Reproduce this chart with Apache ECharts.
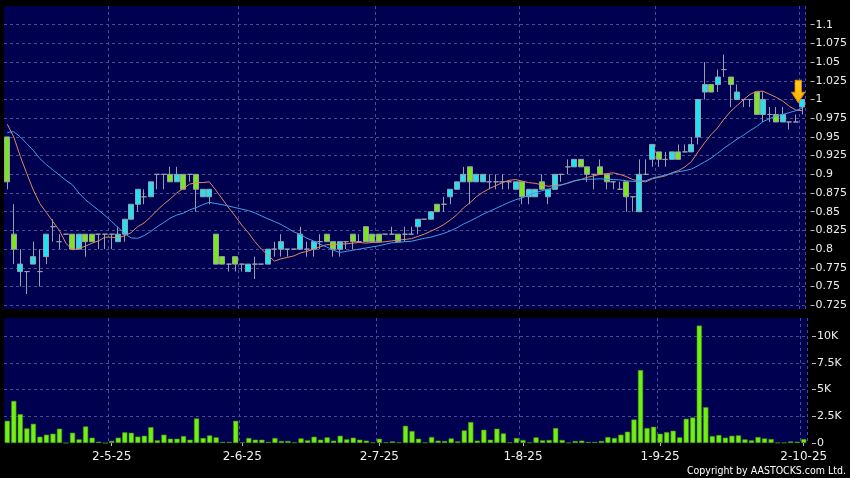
<!DOCTYPE html>
<html><head><meta charset="utf-8">
<script src="https://cdn.jsdelivr.net/npm/echarts@6/dist/echarts.min.js"></script>
<style>html,body{margin:0;padding:0;background:#000;}#c{width:850px;height:478px;}</style>
</head><body><div id="c"></div>
<script>
// trading days (HK), Apr 7 - Oct 2, 2025
const aprDays = [7,8,9,10,11,14,15,16,17,22,23,24,25,28,29,30];
const mayDays = [2,6,7,8,9,12,13,14,15,16,19,20,21,22,23,26,27,28,29,30];
const junDays = [2,3,4,5,6,9,10,11,12,13,16,17,18,19,20,23,24,25,26,27,30];
const julDays = [2,3,4,7,8,9,10,11,14,15,16,17,18,21,22,23,24,25,28,29,30,31];
const augDays = [1,4,5,6,7,8,11,12,13,14,15,18,19,20,21,22,25,26,27,28,29];
const sepDays = [1,2,3,4,5,8,9,10,11,12,15,16,17,18,19,22,23,24,25,26,29,30];
const octDays = [2];
const tickLabels = ['2-5-25','2-6-25','2-7-25','1-8-25','1-9-25','2-10-25'];

const opens = [0.95,0.82,0.77,0.77,0.78,0.77,0.79,0.83,0.81,0.82,
0.82,0.80,0.82,0.82,0.82,0.82,0.82,0.81,0.82,0.84,
0.86,0.87,0.87,0.90,0.90,0.90,0.89,0.90,0.90,0.90,
0.87,0.87,0.82,0.79,0.78,0.79,0.78,0.77,0.78,0.78,
0.78,0.80,0.80,0.80,0.80,0.80,0.80,0.80,0.81,0.82,
0.81,0.80,0.81,0.82,0.81,0.83,0.82,0.82,0.82,0.82,
0.82,0.82,0.82,0.83,0.84,0.84,0.86,0.86,0.87,0.88,
0.89,0.91,0.89,0.89,0.89,0.89,0.89,0.89,0.88,0.89,
0.87,0.87,0.89,0.87,0.88,0.90,0.91,0.91,0.92,0.91,
0.90,0.91,0.90,0.89,0.88,0.89,0.87,0.85,0.90,0.92,
0.93,0.92,0.92,0.93,0.93,0.93,0.95,1.01,1.02,1.02,
1.04,1.03,1.00,1.00,1.00,1.01,0.98,0.98,0.98,0.97,
0.97,0.97,0.99];
const closes = [0.89,0.80,0.78,0.77,0.79,0.77,0.82,0.83,0.81,0.82,
0.80,0.82,0.81,0.81,0.82,0.82,0.82,0.82,0.84,0.86,
0.88,0.87,0.89,0.90,0.90,0.89,0.90,0.88,0.90,0.88,
0.88,0.88,0.78,0.78,0.78,0.78,0.78,0.78,0.78,0.78,
0.80,0.80,0.81,0.80,0.80,0.82,0.80,0.81,0.81,0.81,
0.80,0.81,0.81,0.81,0.81,0.81,0.81,0.81,0.82,0.82,
0.81,0.82,0.82,0.84,0.84,0.85,0.85,0.86,0.88,0.89,
0.90,0.89,0.90,0.90,0.89,0.89,0.89,0.89,0.89,0.87,
0.88,0.88,0.88,0.88,0.90,0.90,0.91,0.92,0.91,0.90,
0.90,0.90,0.89,0.89,0.88,0.87,0.87,0.90,0.90,0.94,
0.92,0.92,0.93,0.92,0.93,0.94,1.00,1.02,1.01,1.03,
1.04,1.02,1.01,1.00,1.00,0.98,1.00,0.98,0.97,0.98,
0.97,0.97,1.00];
const lows = [0.88,0.78,0.75,0.74,0.78,0.75,0.78,0.81,0.80,0.82,
0.80,0.80,0.79,0.81,0.80,0.80,0.80,0.81,0.81,0.84,
0.85,0.86,0.87,0.88,0.88,0.89,0.89,0.88,0.89,0.85,
0.87,0.86,0.78,0.78,0.77,0.77,0.77,0.77,0.76,0.78,
0.78,0.79,0.79,0.79,0.80,0.80,0.79,0.79,0.80,0.81,
0.79,0.79,0.80,0.80,0.81,0.81,0.81,0.81,0.82,0.82,
0.81,0.81,0.82,0.82,0.84,0.84,0.85,0.85,0.86,0.88,
0.89,0.86,0.89,0.89,0.88,0.88,0.88,0.88,0.88,0.86,
0.86,0.87,0.88,0.86,0.88,0.89,0.90,0.91,0.91,0.89,
0.88,0.90,0.88,0.88,0.88,0.85,0.85,0.85,0.90,0.91,
0.91,0.91,0.92,0.92,0.93,0.93,0.94,1.00,1.01,1.01,
1.03,0.99,1.00,0.99,0.99,0.98,0.97,0.97,0.97,0.97,
0.96,0.97,0.98];
const highs = [0.95,0.86,0.80,0.77,0.81,0.80,0.82,0.84,0.82,0.82,
0.82,0.82,0.82,0.82,0.82,0.82,0.82,0.83,0.84,0.86,
0.88,0.88,0.89,0.90,0.90,0.91,0.91,0.90,0.90,0.90,
0.88,0.88,0.82,0.79,0.78,0.79,0.78,0.78,0.79,0.78,
0.80,0.81,0.82,0.80,0.80,0.83,0.81,0.81,0.82,0.82,
0.81,0.81,0.81,0.82,0.82,0.83,0.82,0.82,0.82,0.83,
0.82,0.83,0.83,0.84,0.84,0.85,0.86,0.87,0.88,0.89,
0.91,0.91,0.90,0.90,0.90,0.90,0.90,0.89,0.89,0.89,
0.88,0.88,0.90,0.88,0.90,0.90,0.92,0.92,0.92,0.91,
0.90,0.92,0.90,0.89,0.89,0.89,0.87,0.92,0.92,0.94,
0.93,0.93,0.93,0.94,0.94,0.95,1.00,1.05,1.02,1.04,
1.06,1.03,1.02,1.00,1.00,1.01,1.01,0.99,0.99,0.99,
0.97,0.98,1.00];
const ma10 = [0.967,0.950,0.924,0.901,0.879,0.861,0.849,0.837,0.825,0.808,
0.799,0.801,0.804,0.808,0.811,0.816,0.816,0.815,0.818,0.822,
0.830,0.835,0.843,0.852,0.860,0.867,0.875,0.881,0.887,0.889,
0.889,0.890,0.879,0.867,0.855,0.844,0.832,0.822,0.810,0.800,
0.792,0.784,0.787,0.789,0.791,0.795,0.797,0.800,0.803,0.806,
0.806,0.807,0.807,0.808,0.809,0.808,0.809,0.809,0.810,0.811,
0.812,0.813,0.814,0.817,0.820,0.824,0.828,0.833,0.839,0.846,
0.855,0.862,0.870,0.876,0.881,0.885,0.889,0.892,0.893,0.891,
0.889,0.888,0.886,0.884,0.885,0.886,0.888,0.891,0.893,0.896,
0.898,0.900,0.901,0.902,0.900,0.897,0.893,0.891,0.890,0.894,
0.896,0.898,0.902,0.905,0.910,0.917,0.930,0.942,0.953,0.962,
0.974,0.984,0.992,1.000,1.007,1.011,1.011,1.007,1.003,0.998,
0.991,0.986,0.985];
const ma20 = [0.956,0.957,0.950,0.941,0.932,0.921,0.913,0.906,0.899,0.892,
0.886,0.875,0.866,0.859,0.852,0.845,0.837,0.829,0.821,0.815,
0.8145,0.818,0.8235,0.830,0.8355,0.8415,0.8455,0.848,0.8525,0.8555,
0.8595,0.8625,0.861,0.8595,0.8575,0.8555,0.8535,0.8515,0.8485,0.8445,
0.8405,0.837,0.833,0.828,0.823,0.8195,0.8145,0.811,0.8065,0.803,
0.799,0.7955,0.797,0.7985,0.800,0.8015,0.803,0.8045,0.8065,0.8085,
0.809,0.810,0.8105,0.8125,0.8145,0.816,0.8185,0.821,0.8245,0.8285,
0.8335,0.8375,0.842,0.8465,0.8505,0.8545,0.8585,0.8625,0.866,0.8685,
0.872,0.875,0.878,0.880,0.883,0.8855,0.8885,0.8915,0.893,0.8935,
0.8935,0.894,0.8935,0.893,0.8925,0.8915,0.8905,0.891,0.8915,0.895,
0.897,0.899,0.9015,0.9035,0.905,0.907,0.9115,0.9165,0.9215,0.928,
0.935,0.941,0.947,0.9525,0.9585,0.964,0.9705,0.9745,0.978,0.980,
0.9825,0.985,0.9885];
const volumes = [2080,3940,2700,1370,1800,590,780,870,1340,0,
960,340,1550,500,120,0,200,500,1000,960,
600,680,1490,250,780,400,400,650,310,2300,
470,710,530,100,100,2080,50,470,310,310,
100,470,190,190,60,430,250,590,310,530,
220,680,340,500,310,220,60,400,60,150,
60,1610,1120,400,60,560,220,190,430,150,
1180,1960,220,1240,310,1340,900,60,470,280,
60,530,250,280,1400,280,30,190,220,100,
100,190,560,470,780,1060,2200,6830,1400,1520,
870,1020,1150,530,2270,2390,10990,3350,650,750,
500,680,710,340,250,560,430,370,30,30,
150,120,370];

const categories = [];
[[4,aprDays],[5,mayDays],[6,junDays],[7,julDays],[8,augDays],[9,sepDays],[10,octDays]]
  .forEach(([m, days]) => days.forEach(d => categories.push(d + '-' + m + '-25')));
const kData = opens.map((o, i) => [o, closes[i], lows[i], highs[i]]);
const last = categories.length - 1;

const gridLine = {show: true, lineStyle: {color: '#4c4c90', type: [3, 3], width: 1}};
const isTick = (idx, val) => tickLabels.indexOf(val) >= 0;
const fontFam = '"DejaVu Sans", Verdana, sans-serif';

const chart = echarts.init(document.getElementById('c'), null, {renderer: 'canvas'});
chart.setOption({
  animation: false,
  backgroundColor: '#000000',
  grid: [
    {left: 4, right: 43, top: 6, height: 303, show: true, backgroundColor: '#000050', borderWidth: 0},
    {left: 4, right: 43, top: 318, height: 125, show: true, backgroundColor: '#000050', borderWidth: 0}
  ],
  xAxis: [
    {type: 'category', gridIndex: 0, data: categories, boundaryGap: true,
     axisLine: {show: false}, axisTick: {show: false}, axisLabel: {show: false},
     splitLine: Object.assign({interval: isTick}, gridLine)},
    {type: 'category', gridIndex: 1, data: categories, boundaryGap: true, offset: 3,
     axisLine: {show: false},
     axisTick: {show: true, alignWithLabel: true, interval: isTick, length: 3, lineStyle: {color: '#bbbbbb'}},
     axisLabel: {show: true, interval: isTick, color: '#eeeeee', fontSize: 12, fontFamily: fontFam, margin: 5},
     splitLine: Object.assign({interval: isTick}, gridLine)}
  ],
  yAxis: [
    {type: 'value', gridIndex: 0, position: 'right', min: 0.72, max: 1.125,
     minInterval: 0.025, maxInterval: 0.025, offset: 5,
     axisLine: {show: false},
     axisTick: {show: true, length: 4, lineStyle: {color: '#bbbbbb'}},
     axisLabel: {color: '#eeeeee', fontSize: 11, fontFamily: fontFam, margin: 5,
                 showMinLabel: false, showMaxLabel: false,
                 formatter: v => String(+(+v).toFixed(3))},
     splitLine: Object.assign({showMinLine: false, showMaxLine: false}, gridLine)},
    {type: 'value', gridIndex: 1, position: 'right', min: 0, max: 11700, interval: 2500, offset: 5,
     axisLine: {show: false},
     axisTick: {show: true, length: 4, lineStyle: {color: '#bbbbbb'}},
     axisLabel: {color: '#eeeeee', fontSize: 11, fontFamily: fontFam, margin: 5, showMaxLabel: false,
                 formatter: v => v === 0 ? '0' : (v / 1000) + 'K'},
     splitLine: Object.assign({showMinLine: false, showMaxLine: false}, gridLine)}
  ],
  series: [
    {type: 'candlestick', xAxisIndex: 0, yAxisIndex: 0, data: kData, barWidth: 5.5,
     itemStyle: {color: '#1fe3f0', color0: '#7ae61e', borderColor: '#9aa0aa', borderColor0: '#9aa0aa',
                 borderColorDoji: '#9aa0aa', borderWidth: 1},
     markPoint: {
       silent: true,
       symbol: 'path://M3,0 L9,0 L9,12 L12,12 L6,22 L0,12 L3,12 Z',
       symbolSize: [13, 22], symbolOffset: [-4, -8],
       label: {show: false},
       itemStyle: {color: new echarts.graphic.LinearGradient(0, 0, 0, 1, [
         {offset: 0, color: '#ffd21a'}, {offset: 1, color: '#ffb000'}]),
         borderColor: '#e08a00', borderWidth: 1},
       data: [{coord: [categories[last], highs[last]]}]
     }},
    {type: 'line', xAxisIndex: 0, yAxisIndex: 0, data: ma10, symbol: 'none',
     lineStyle: {color: '#e08a5c', width: 1}},
    {type: 'line', xAxisIndex: 0, yAxisIndex: 0, data: ma20, symbol: 'none',
     lineStyle: {color: '#3d9fe8', width: 1}},
    {type: 'bar', xAxisIndex: 1, yAxisIndex: 1, data: volumes, barWidth: 5.2,
     itemStyle: {color: '#72ee12', borderColor: '#3f9410', borderWidth: 0.6}}
  ],
  graphic: [
    {type: 'text', right: 4, bottom: 1,
     style: {text: 'Copyright by AASTOCKS.com Ltd.', fill: '#ffffff', font: '10.5px "DejaVu Sans Condensed", "Liberation Sans", Arial, sans-serif'}}
  ]
});
</script>
</body></html>
